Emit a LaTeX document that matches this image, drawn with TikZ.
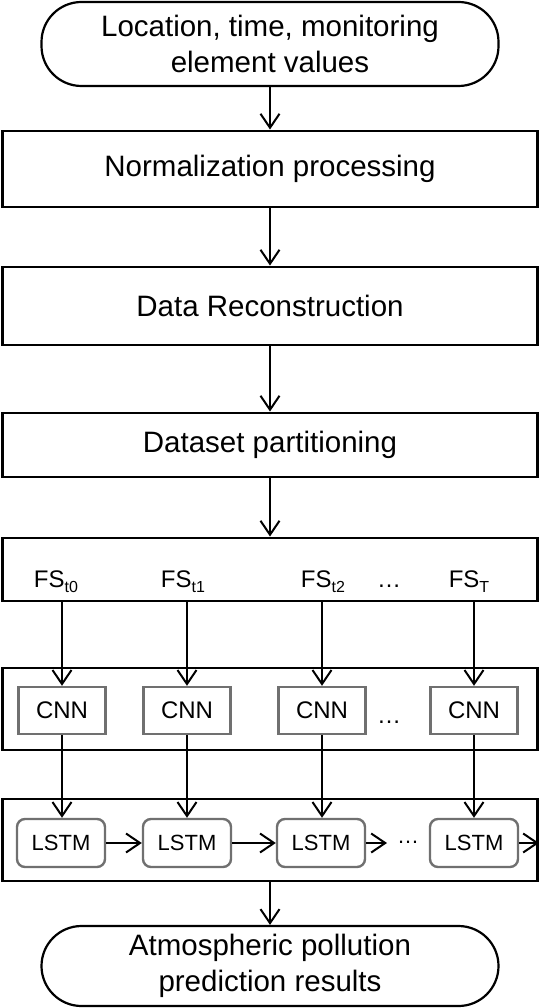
\documentclass[tikz,border=0pt]{standalone}
\usepackage{fontspec}
\setmainfont{Liberation Sans}
\usetikzlibrary{arrows.meta}
\definecolor{boxgray}{HTML}{707070}
\newcommand{\fsub}[1]{{\fontsize{16}{16}\selectfont\raisebox{-5pt}{#1}}}
\begin{document}
\begin{tikzpicture}[x=1pt,y=-1pt,
  big/.style={font=\fontsize{29.5}{36}\selectfont, align=center},
  outer/.style={draw=black, line width=2.9pt, minimum width=535pt, inner sep=0pt, big},
  term/.style={draw=black, line width=2.2pt, rounded corners=40pt, minimum width=457pt, inner sep=0pt, big},
  cnnbox/.style={draw=boxgray, line width=2.4pt, minimum width=87pt, minimum height=47pt, inner sep=0pt, font=\fontsize{24}{28}\selectfont},
  lstmbox/.style={draw=boxgray, line width=2.4pt, rounded corners=8pt, minimum width=88pt, minimum height=48pt, inner sep=0pt, font=\fontsize{22}{26}\selectfont},
  fslab/.style={font=\fontsize{24}{28}\selectfont, inner sep=0pt, anchor=base},
  dots/.style={inner sep=0pt},
  arr/.style={line width=2pt, -{Straight Barb[length=14pt,width=19pt,line width=2pt]}}
]
\useasboundingbox (0,0) rectangle (540,1008);

\node[term, minimum height=84pt] (start) at (270,44) {Location, time, monitoring\\element values};
\node[outer, minimum height=76pt] (norm) at (270,169) {Normalization processing};
\node[outer, minimum height=78pt] (recon) at (270,306) {Data Reconstruction};
\node[outer, minimum height=64pt] (part) at (270,445) {Dataset partitioning};
\node[outer, minimum height=63pt] (fsbox) at (270,569.5) {};
\node[outer, minimum height=82pt] (cnnrow) at (270,709) {};
\node[outer, minimum height=82pt] (lstmrow) at (270,840) {};
\node[term, minimum height=80pt] (end) at (270,966) {Atmospheric pollution\\prediction results};

% FS labels
\node[fslab] (f1) at (56,587) {FS\fsub{t0}};
\node[fslab] (f2) at (183,587) {FS\fsub{t1}};
\node[fslab] (f3) at (323,587) {FS\fsub{t2}};
\node[fslab] (f4) at (469,587) {FS\fsub{T}};
\node[dots, anchor=base, font=\fontsize{24}{28}\selectfont] (fd) at (389,587) {…};

% CNN boxes
\node[cnnbox] (c1) at (62,710.5) {CNN};
\node[cnnbox] (c2) at (187,710.5) {CNN};
\node[cnnbox] (c3) at (322,710.5) {CNN};
\node[cnnbox] (c4) at (474,710.5) {CNN};
\node[dots, anchor=base, font=\fontsize{24}{28}\selectfont] (cd) at (389,723) {…};

% LSTM boxes
\node[lstmbox] (l1) at (61,843) {LSTM};
\node[lstmbox] (l2) at (187,843) {LSTM};
\node[lstmbox] (l3) at (321,843) {LSTM};
\node[lstmbox] (l4) at (474,843) {LSTM};
\node[dots, font=\fontsize{22}{26}\selectfont] (ld) at (408,842) {…};
\coordinate (l3end) at (387,843);

% main flow
\draw[arr] (start) -- (norm);
\draw[arr] (norm) -- (recon);
\draw[arr] (recon) -- (part);
\draw[arr] (part) -- (fsbox);
\draw[arr] (lstmrow) -- (end);

% columns
\foreach \i in {1,2,3,4}{
  \draw[arr] (c\i.north |- fsbox.south) -- (c\i.north);
  \draw[arr] (c\i.south) -- (l\i.north -| c\i.south);
}

% LSTM chain
\draw[arr] (l1.east) -- (l2.west);
\draw[arr] (l2.east) -- (l3.west);
\draw[arr] (l3.east) -- (l3end);
\draw[arr] (l4.east) -- (l4.east -| lstmrow.east);
\end{tikzpicture}
\end{document}
